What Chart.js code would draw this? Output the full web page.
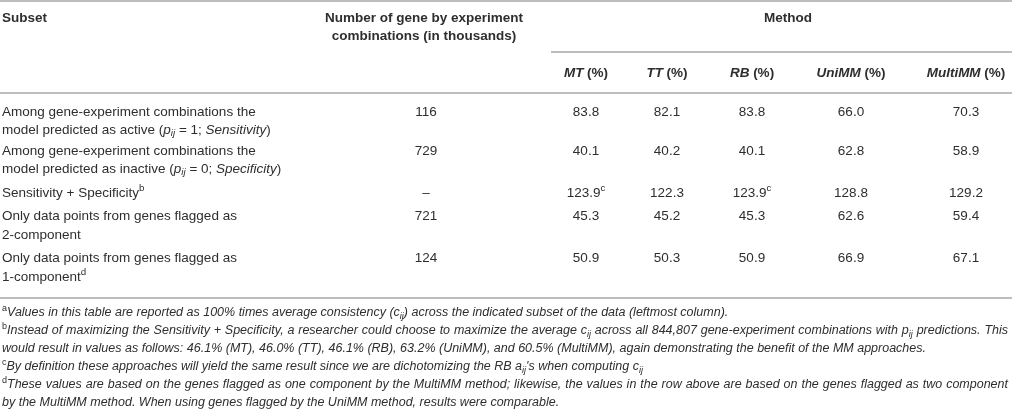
<!DOCTYPE html>
<html>
<head>
<meta charset="utf-8">
<script src="https://cdn.jsdelivr.net/npm/chart.js@4/dist/chart.umd.min.js"></script>
<style>
  html, body { margin: 0; padding: 0; background: #fff; }
  #wrap { width: 1012px; height: 410px; position: relative; }
</style>
</head>
<body>
<div id="wrap"><canvas id="tabela"></canvas></div>
<script>
// dados da tabela
const headSubset = 'Subset';
const headCount = ['Number of gene by experiment', 'combinations (in thousands)'];
const headMethod = 'Method';
const methodNames = ['MT', 'TT', 'RB', 'UniMM', 'MultiMM'];

const subsetLines = [
    ['Among gene-experiment combinations the', 'model predicted as active (*p*_{ij} = 1; *Sensitivity*)'],
    ['Among gene-experiment combinations the', 'model predicted as inactive (*p*_{ij} = 0; *Specificity*)'],
    ['Sensitivity + Specificity^{b}'],
    ['Only data points from genes flagged as', '2-component'],
    ['Only data points from genes flagged as', '1-component^{d}']
];
const counts = ['116', '729', '–', '721', '124'];

const valuesMT = [83.8, 40.1, 123.9, 45.3, 50.9];
const valuesTT = [82.1, 40.2, 122.3, 45.2, 50.3];
const valuesRB = [83.8, 40.1, 123.9, 45.3, 50.9];
const valuesUniMM = [66.0, 62.8, 128.8, 62.6, 66.9];
const valuesMultiMM = [70.3, 58.9, 129.2, 59.4, 67.1];
// nota sobrescrita: [linha, coluna, letra]
const valueNotes = [[2, 0, 'c'], [2, 2, 'c']];

const footnotes = [
    { mark: 'a', lines: ['Values in this table are reported as 100% times average consistency (c_{ij}) across the indicated subset of the data (leftmost column).'] },
    { mark: 'b', lines: ['Instead of maximizing the Sensitivity + Specificity, a researcher could choose to maximize the average c_{ij} across all 844,807 gene-experiment combinations with p_{ij} predictions. This',
                         'would result in values as follows: 46.1% (MT), 46.0% (TT), 46.1% (RB), 63.2% (UniMM), and 60.5% (MultiMM), again demonstrating the benefit of the MM approaches.'] },
    { mark: 'c', lines: ['By definition these approaches will yield the same result since we are dichotomizing the RB a_{ij}\'s when computing c_{ij}'] },
    { mark: 'd', lines: ['These values are based on the genes flagged as one component by the MultiMM method; likewise, the values in the row above are based on the genes flagged as two component',
                         'by the MultiMM method. When using genes flagged by the UniMM method, results were comparable.'] }
];

// layout (unidades da escala = pixels da imagem)
const colX = [586, 667, 752, 851, 966];
const countX = 426;
const rowY = [[112, 130], [151, 169], [193], [216, 235], [258, 277]];
const noteY = [313, 331, 349, 367, 385, 403];
const FONT = '"Liberation Sans", Arial, sans-serif';
const SIZE = 13.5;
const NOTE_SIZE = 12.5;
const COR = '#2e2e2e';
const COR_LINHA = '#bdbdbd';

function parseRich(str, italicBase) {
    const segs = [];
    let italic = !!italicBase;
    let buf = '';
    const flush = () => { if (buf) { segs.push({ t: buf, italic: italic }); buf = ''; } };
    for (let i = 0; i < str.length; i++) {
        const ch = str[i];
        if (ch === '*') { flush(); italic = !italic; continue; }
        if ((ch === '_' || ch === '^') && str[i + 1] === '{') {
            flush();
            const end = str.indexOf('}', i);
            const t = str.slice(i + 2, end);
            if (ch === '_') segs.push({ t: t, italic: true, sub: true });
            else segs.push({ t: t, italic: false, sup: true });
            i = end;
            continue;
        }
        buf += ch;
    }
    flush();
    return segs;
}

function fontFor(seg, o) {
    const size = (seg.sub || seg.sup) ? o.size * 0.72 : o.size;
    return (seg.italic ? 'italic ' : '') + (o.bold ? 'bold ' : '') + size + 'px ' + FONT;
}

function drawRich(ctx, str, x, y, o) {
    o = Object.assign({ size: SIZE, bold: false, italic: false, align: 'left', color: COR }, o);
    const segs = parseRich(str, o.italic);
    let total = 0;
    let spaces = 0;
    segs.forEach(s => {
        ctx.font = fontFor(s, o);
        s.w = ctx.measureText(s.t).width;
        total += s.w;
        if (!s.sub && !s.sup) spaces += (s.t.match(/ /g) || []).length;
    });
    let extra = 0;
    if (o.justify && spaces > 0) extra = (o.justify - x - total) / spaces;
    let cx = x;
    if (o.align === 'center') cx = x - total / 2;
    if (o.align === 'right') cx = x - total;
    ctx.fillStyle = o.color;
    ctx.textBaseline = 'middle';
    ctx.textAlign = 'left';
    segs.forEach(s => {
        ctx.font = fontFor(s, o);
        let dy = 0;
        if (s.sub) dy = o.size * 0.28;
        if (s.sup) dy = -o.size * 0.33;
        if (extra !== 0 && !s.sub && !s.sup) {
            const parts = s.t.split(' ');
            const sw = ctx.measureText(' ').width;
            parts.forEach((p, k) => {
                ctx.fillText(p, cx, y + dy);
                cx += ctx.measureText(p).width;
                if (k < parts.length - 1) cx += sw + extra;
            });
        } else {
            ctx.fillText(s.t, cx, y + dy);
            cx += s.w;
        }
    });
}

const tabelaPlugin = {
    id: 'tabela',
    afterDraw(chart) {
        const ctx = chart.ctx;
        const sx = chart.scales.x;
        const sy = chart.scales.y;
        const X = v => sx.getPixelForValue(v);
        const Y = v => sy.getPixelForValue(v);
        ctx.save();

        // linhas horizontais
        ctx.strokeStyle = COR_LINHA;
        ctx.lineWidth = 2;
        [[0, 1012, 1], [551, 1012, 52], [0, 1012, 93], [0, 1012, 298]].forEach(r => {
            ctx.beginPath();
            ctx.moveTo(X(r[0]), Y(r[2]));
            ctx.lineTo(X(r[1]), Y(r[2]));
            ctx.stroke();
        });

        // cabeçalho
        drawRich(ctx, headSubset, X(2), Y(18), { bold: true });
        drawRich(ctx, headCount[0], X(countX - 2), Y(18), { bold: true, align: 'center' });
        drawRich(ctx, headCount[1], X(countX - 2), Y(36), { bold: true, align: 'center' });
        drawRich(ctx, headMethod, X(788), Y(18), { bold: true, align: 'center' });
        methodNames.forEach((m, i) => {
            drawRich(ctx, '*' + m + '* (%)', X(colX[i]), Y(73), { bold: true, align: 'center' });
        });

        // corpo
        const series = [valuesMT, valuesTT, valuesRB, valuesUniMM, valuesMultiMM];
        subsetLines.forEach((lines, r) => {
            lines.forEach((l, k) => drawRich(ctx, l, X(2), Y(rowY[r][k])));
            drawRich(ctx, counts[r], X(countX), Y(rowY[r][0]), { align: 'center' });
            series.forEach((vals, c) => {
                let txt = vals[r].toFixed(1);
                valueNotes.forEach(n => { if (n[0] === r && n[1] === c) txt += '^{' + n[2] + '}'; });
                drawRich(ctx, txt, X(colX[c]), Y(rowY[r][0]), { align: 'center' });
            });
        });

        // notas de rodapé
        let li = 0;
        footnotes.forEach(f => {
            f.lines.forEach((l, k) => {
                const justify = f.lines.length > 1 && k === 0 ? X(1008) : null;
                const txt = (k === 0 ? '^{' + f.mark + '}' : '') + l;
                drawRich(ctx, txt, X(2), Y(noteY[li]), { italic: true, size: NOTE_SIZE, justify: justify });
                li++;
            });
        });
        ctx.restore();
    }
};

new Chart(document.getElementById('tabela').getContext('2d'), {
    type: 'scatter',
    data: { datasets: [{ data: [], pointRadius: 0 }] },
    options: {
        responsive: true,
        maintainAspectRatio: false,
        animation: false,
        layout: { padding: 0 },
        plugins: { legend: { display: false }, tooltip: { enabled: false } },
        scales: {
            x: { type: 'linear', min: 0, max: 1012, display: false },
            y: { type: 'linear', min: 0, max: 410, reverse: true, display: false }
        }
    },
    plugins: [tabelaPlugin]
});
</script>
</body>
</html>
